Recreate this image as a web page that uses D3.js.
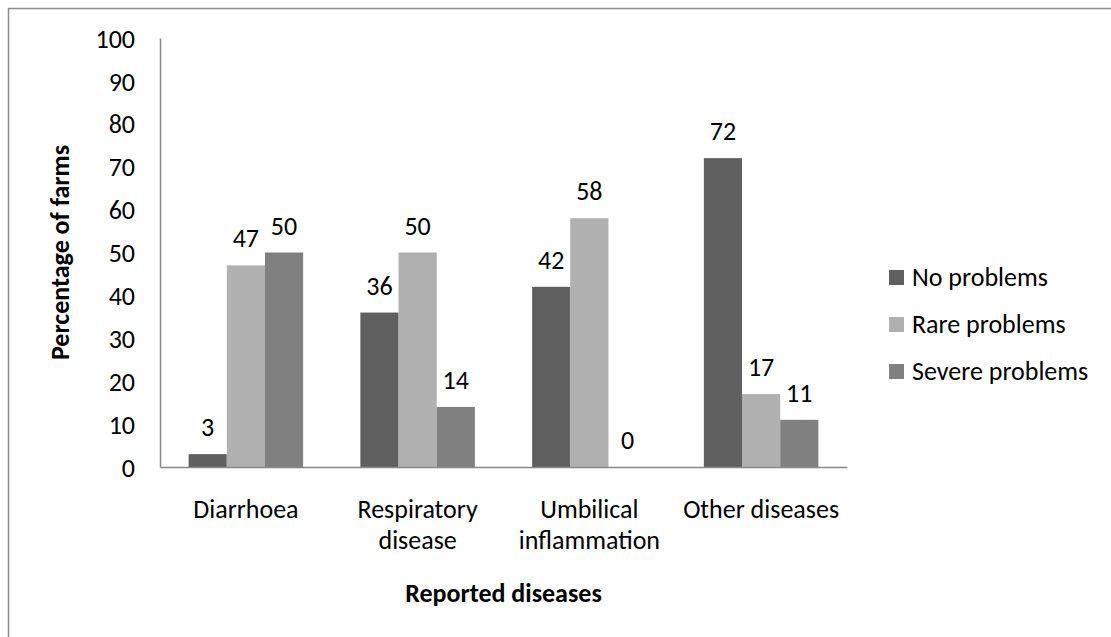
<!DOCTYPE html>
<html>
<head>
<meta charset="utf-8">
<script src="https://cdn.jsdelivr.net/npm/d3@7"></script>
<style>
  body { margin: 0; background: #fff; }
  svg text { font-family: Carlito, Calibri, Lato, sans-serif; fill: #000; }
</style>
</head>
<body>
<div id="chart"></div>
<script>
// Chart Data
const categories = ["Diarrhoea", "Respiratory disease", "Umbilical inflammation", "Other diseases"];
const seriesNames = ["No problems", "Rare problems", "Severe problems"];
const noProblems = [3, 36, 42, 72];
const rareProblems = [47, 50, 58, 17];
const severeProblems = [50, 14, 0, 11];
const yTicks = [0, 10, 20, 30, 40, 50, 60, 70, 80, 90, 100];
const seriesColors = ["#606060", "#b0b0b0", "#808080"];

// Category label line breaks
const catLines = { "Diarrhoea": ["Diarrhoea"], "Respiratory disease": ["Respiratory", "disease"],
  "Umbilical inflammation": ["Umbilical", "inflammation"], "Other diseases": ["Other diseases"] };

// Dimensions
let w = 1111, h = 637;
let plotLeft = 160, plotRight = 847, plotTop = 38, plotBottom = 467;
let fontSize = 26;

let svg = d3.select("#chart").append("svg").attr("width", w).attr("height", h);

// Outer border
svg.append("rect").attr("x", 8.5).attr("y", 8.5).attr("width", w + 20).attr("height", h + 20)
  .attr("fill", "#fff").attr("stroke", "#8c8c8c").attr("stroke-width", 1.5);

// Scales
let xScale = d3.scaleBand().domain(categories).range([plotLeft, plotRight]).paddingInner(0.3333).paddingOuter(0.1667);
let xSub = d3.scaleBand().domain(seriesNames).range([0, xScale.bandwidth()]);
let yScale = d3.scaleLinear().domain([0, 100]).range([plotBottom, plotTop]);

let dataset = [];
categories.forEach((c, i) => {
  [noProblems, rareProblems, severeProblems].forEach((s, j) => {
    dataset.push({ cat: c, series: seriesNames[j], value: s[i], color: seriesColors[j] });
  });
});

// Bars
svg.selectAll("rect.bar").data(dataset).enter().append("rect").attr("class", "bar")
  .attr("x", d => xScale(d.cat) + xSub(d.series))
  .attr("y", d => yScale(d.value))
  .attr("width", xSub.bandwidth())
  .attr("height", d => plotBottom - yScale(d.value))
  .attr("fill", d => d.color);

// Data labels
svg.selectAll("text.lbl").data(dataset).enter().append("text").attr("class", "lbl")
  .attr("x", d => xScale(d.cat) + xSub(d.series) + xSub.bandwidth() / 2)
  .attr("y", d => yScale(d.value) - 18)
  .attr("text-anchor", "middle").style("font-size", fontSize + "px")
  .text(d => d.value);

// Y Axis
let yAxis = d3.axisLeft(yScale).tickValues(yTicks).tickSize(0).tickPadding(25);
let gy = svg.append("g").attr("transform", "translate(" + plotLeft + ",0)").call(yAxis);
gy.attr("font-family", null);
gy.select(".domain").attr("stroke", "#888").attr("stroke-width", 1.5);
gy.selectAll("text").style("font-size", fontSize + "px").attr("dy", "0.35em");

// X Axis
let xAxis = d3.axisBottom(xScale).tickSize(0).tickFormat("");
let gx = svg.append("g").attr("transform", "translate(0," + plotBottom + ")").call(xAxis);
gx.select(".domain").attr("stroke", "#888").attr("stroke-width", 1.5);

// Category labels
categories.forEach(c => {
  let t = svg.append("text").attr("text-anchor", "middle").style("font-size", fontSize + "px");
  catLines[c].forEach((line, k) => {
    t.append("tspan").attr("x", xScale(c) + xScale.bandwidth() / 2).attr("y", 518 + k * 31).text(line);
  });
});

// Axis titles
svg.append("text").text("Reported diseases").attr("x", (plotLeft + plotRight) / 2).attr("y", 602)
  .attr("text-anchor", "middle").style("font-size", fontSize + "px").style("font-weight", "bold");
svg.append("text").text("Percentage of farms")
  .attr("transform", "translate(69," + (plotTop + plotBottom) / 2 + ") rotate(-90)")
  .attr("text-anchor", "middle").style("font-size", fontSize + "px").style("font-weight", "bold");

// Legend
seriesNames.forEach((s, i) => {
  svg.append("rect").attr("x", 889).attr("y", 270 + i * 47).attr("width", 15).attr("height", 15).attr("fill", seriesColors[i]);
  svg.append("text").attr("x", 912).attr("y", 286 + i * 47).style("font-size", fontSize + "px").text(s);
});
</script>
</body>
</html>
